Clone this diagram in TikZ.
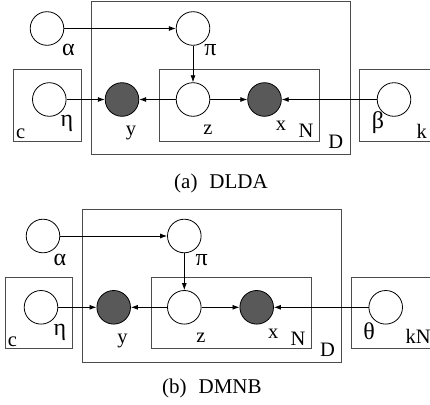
\documentclass[tikz,border=0pt]{standalone}
\usepackage{fontspec}
\setmainfont{Liberation Serif}
\usetikzlibrary{arrows.meta}
\begin{document}
\begin{tikzpicture}[x=1pt,y=-1pt,
  var/.style={circle,draw=black,line width=0.8pt,minimum size=33.6pt,inner sep=0pt,fill=white},
  obs/.style={var,fill=black!65},
  plate/.style={draw=black!70,line width=0.8pt},
  arr/.style={draw=black,line width=0.8pt,-{Latex[length=7pt,width=5pt]}},
  lbl/.style={anchor=base,inner sep=0pt,font=\fontsize{20.5}{24}\selectfont},
  glbl/.style={anchor=base,inner sep=0pt,font=\fontsize{24}{28}\selectfont},
  captext/.style={anchor=base west,inner sep=0pt,font=\fontsize{21}{25}\selectfont}]
\useasboundingbox (0,0) rectangle (430,404);
% ---------------- (a) ----------------
\draw[plate] (91.7,1.7) rectangle (350,154);
\draw[plate] (159.3,69.3) rectangle (319.3,141);
\draw[plate] (13.3,69.3) rectangle (81,141);
\draw[plate] (430,69.3) -- (359.3,69.3) -- (359.3,141) -- (430,141);
\node[var] (aalpha) at (47,28.5) {};
\node[var] (api) at (193,28.5) {};
\node[var] (aeta) at (49.3,99.5) {};
\node[obs] (ay) at (122,99.5) {};
\node[var] (az) at (193,99.5) {};
\node[obs] (ax) at (264.5,99.5) {};
\node[var] (abeta) at (394,99.5) {};
\draw[arr] (aalpha) -- (api);
\draw[arr] (api) -- (az);
\draw[arr] (aeta) -- (ay);
\draw[arr] (az) -- (ay);
\draw[arr] (az) -- (ax);
\draw[arr] (abeta) -- (ax);
\node[glbl] (lalpha) at (68.5,56) {α};
\node[glbl] (lpi) at (210.5,56) {π};
\node[glbl] (leta) at (67,126) {η};
\node[lbl] (ly) at (131,135) {y};
\node[lbl] (lc) at (20.7,138) {c};
\node[lbl] (lz) at (208,134) {z};
\node[lbl] (lx) at (281,130.7) {x};
\node[lbl] (lN) at (306,137) {N};
\node[lbl] (lD) at (335.7,148.3) {D};
\node[glbl] (lbeta) at (378,128.5) {β};
\node[lbl] (lk) at (421.7,138) {k};
\node[captext] (capa) at (174,188.3) {(a)\hspace{0.57em}DLDA};
% ---------------- (b) ----------------
\draw[plate] (82.7,209.3) rectangle (341.7,362.3);
\draw[plate] (151.7,277.3) rectangle (311.7,348.3);
\draw[plate] (5,277.3) rectangle (72.7,348.3);
\draw[plate] (430,277.3) -- (351.7,277.3) -- (351.7,348.3) -- (430,348.3);
\node[var] (balpha) at (43,236) {};
\node[var] (bpi) at (184.3,236) {};
\node[var] (beta) at (41,307.3) {};
\node[obs] (by) at (113.7,307.3) {};
\node[var] (bz) at (184.3,307.3) {};
\node[obs] (bx) at (256.7,307.3) {};
\node[var] (btheta) at (385.7,307.3) {};
\draw[arr] (balpha) -- (bpi);
\draw[arr] (bpi) -- (bz);
\draw[arr] (beta) -- (by);
\draw[arr] (bz) -- (by);
\draw[arr] (bz) -- (bx);
\draw[arr] (btheta) -- (bx);
\node[glbl] (malpha) at (60,265) {α};
\node[glbl] (mpi) at (201.7,265) {π};
\node[glbl] (meta) at (60,335) {η};
\node[lbl] (my) at (122.5,343) {y};
\node[lbl] (mc) at (12.5,346) {c};
\node[lbl] (mz) at (200.8,342) {z};
\node[lbl] (mx) at (273.3,338) {x};
\node[lbl] (mN) at (298,345) {N};
\node[lbl] (mD) at (327.5,356) {D};
\node[glbl] (mtheta) at (369,339) {θ};
\node[lbl,anchor=base west] (mkN) at (405.5,343.5) {kN};
\node[captext] (capb) at (162,393) {(b)\hspace{0.57em}DMNB};
\end{tikzpicture}
\end{document}
